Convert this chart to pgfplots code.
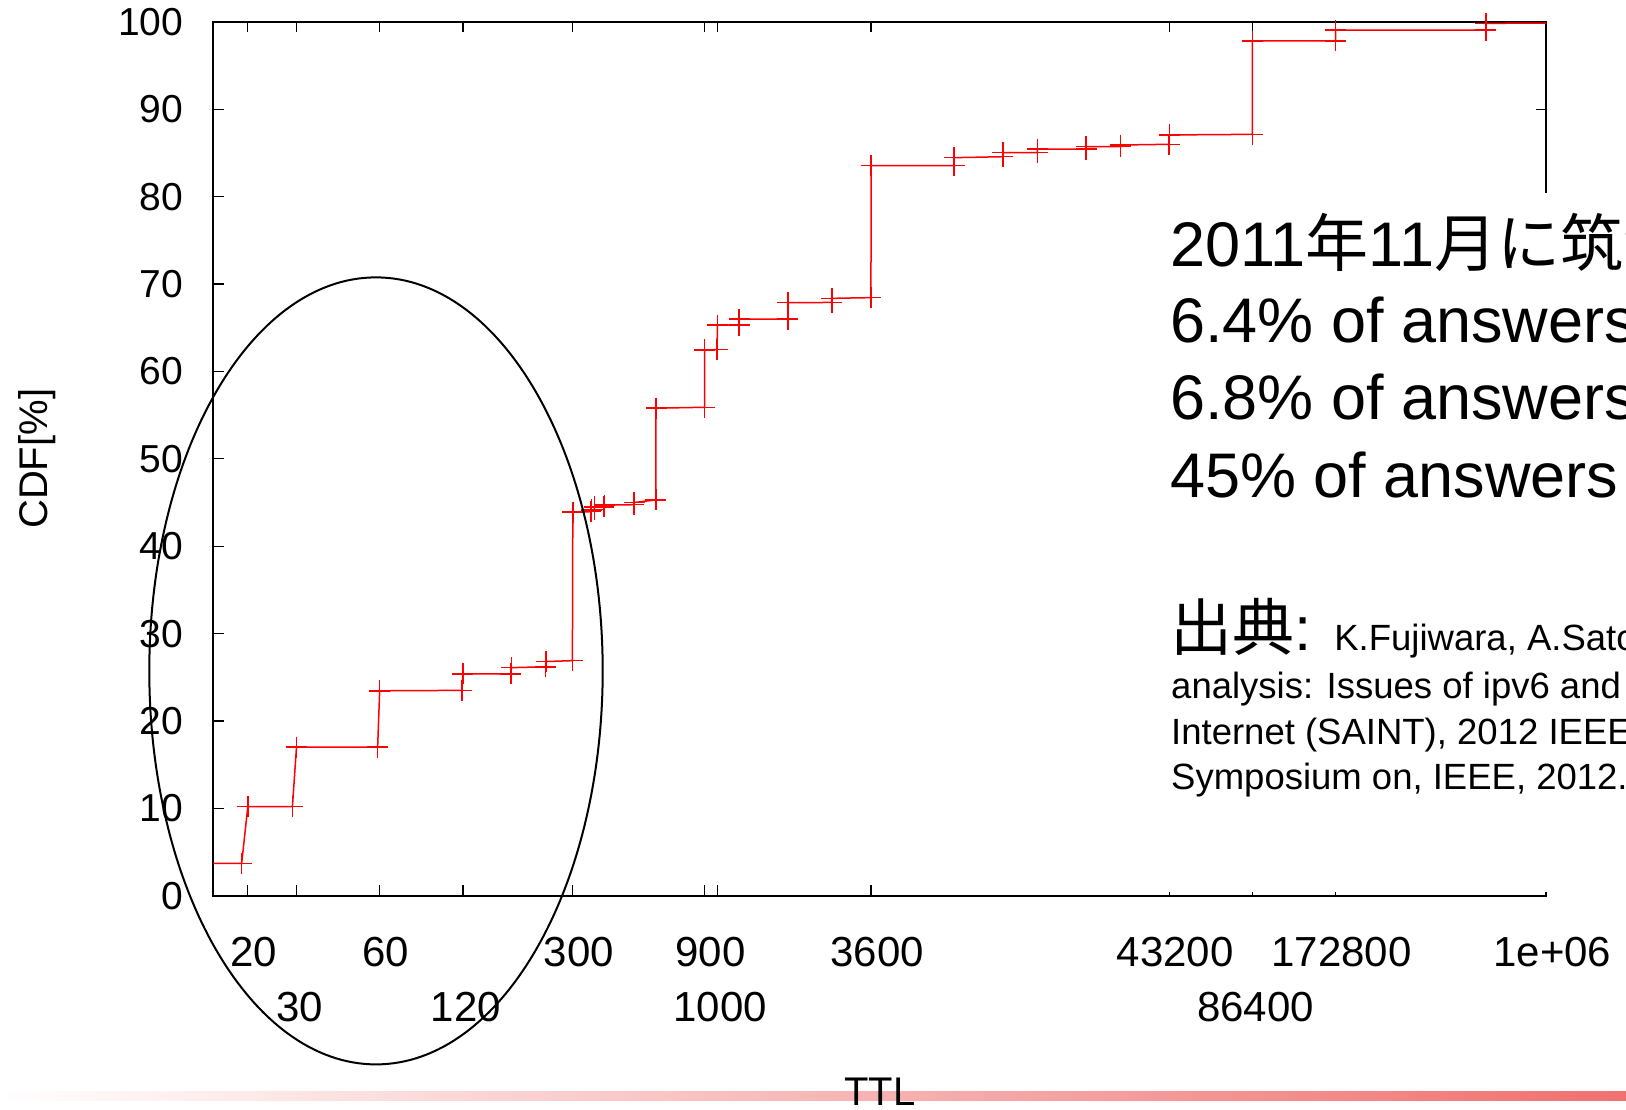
\documentclass[border=0pt]{standalone}
\usepackage{pgfplots}
\pgfplotsset{compat=1.18}
\usepackage{fontspec}
\setmainfont{Liberation Sans}
\newfontfamily\cjk{Noto Sans CJK JP}
\definecolor{barred}{RGB}{240,112,112}
\newcommand{\fs}[1]{\fontsize{#1}{#1}\selectfont}
\begin{document}
\begin{tikzpicture}[x=1pt,y=1pt]
\useasboundingbox (0,0) rectangle (1626,1110);
\clip (0,0) rectangle (1626,1110);
\shade[left color=white, right color=barred] (0,9) rectangle (1626,18);
\begin{axis}[
  at={(213.3pt,214.3pt)}, anchor=south west,
  scale only axis, width=1333pt, height=873.7pt,
  xmode=log, xmin=15, xmax=1000000, ymin=0, ymax=100,
  xtick={20,60,300,900,3600,43200,172800,1000000},
  xticklabels={20,60,300,900,3600,43200,172800,1e+06},
  extra x ticks={30,120,1000,86400},
  extra x tick labels={30,120,1000,86400},
  extra x tick style={xticklabel style={yshift=-55pt, xshift=-3pt}},
  ytick={0,10,...,100},
  tick align=inside,
  major tick length=10.5pt,
  every tick/.style={black, line width=1.3pt},
  axis line style={line width=1.8pt},
  xminorticks=false,
  /pgf/number format/assume math mode=true,
  tick label style={font=\fs{39}},
  xticklabel style={anchor=base, yshift=-71pt, xshift=6pt, inner sep=0pt, font=\fs{42}},
  yticklabel style={anchor=east, inner sep=0pt, xshift=-30pt},
  xlabel={TTL}, ylabel={CDF[\%]},
  label style={font=\fs{40}},
  xlabel style={at={(axis description cs:0.5,-0.2396)}, anchor=base, inner sep=0pt},
  ylabel style={at={(axis description cs:-0.1319,0.5)}, anchor=center, inner sep=0pt},
]
\addplot[red, line width=1.5pt, mark=+, mark size=10.5pt, mark options={line width=1.5pt}] coordinates {
(10,3.7) (19,3.7) (20,10.2) (29,10.2) (30,17.0) (59,17.0) (60,23.45)
(119,23.5) (120,25.4) (179,25.4) (180,26.1) (239,26.2) (240,26.8)
(299,26.9) (300,43.9) (349,43.95) (350,44.15) (359,44.2) (360,44.5)
(389,44.5) (390,44.7) (499,44.75) (500,45.0) (599,45.3) (600,55.8)
(899,55.9) (900,62.46) (999,62.5) (1000,65.3) (1199,65.3) (1200,66.0)
(1799,66.0) (1800,67.87) (2599,67.9) (2600,68.37) (3599,68.45) (3600,83.55)
(7199,83.55) (7200,84.47) (10799,84.58) (10800,85.04) (14399,85.04) (14400,85.46)
(21599,85.46) (21600,85.73) (28799,85.73) (28800,85.92) (43199,86.0) (43200,87.07)
(86399,87.14) (86400,97.82) (172799,97.85) (172800,99.08) (604799,99.08) (604800,99.85)
(3000000,99.9)
};
\end{axis}
\fill[white] (1160,218) rectangle (1626,917);
\draw[line width=2pt] (376,439.1) ellipse [x radius=226.7, y radius=393.5];
\node[anchor=base west, inner sep=0pt, font=\fs{63}] at (1170,843.3) {2011{\cjk 年}11{\cjk 月に筑波大学で観測したDNS応答}};
\node[anchor=base west, inner sep=0pt, font=\fs{63}] at (1170,767.3) {6.4\% of answers have TTL 20};
\node[anchor=base west, inner sep=0pt, font=\fs{63}] at (1170,690) {6.8\% of answers have TTL 30};
\node[anchor=base west, inner sep=0pt, font=\fs{63}] at (1170,612.3) {45\% of answers have TTL 300 or less};
\node[anchor=base west, inner sep=0pt] at (1170,459.3) {{\fs{62}{\cjk 出典}: }{\fs{36.5}K.Fujiwara, A.Sato, K.Yoshida, DNS traffic}};
\node[anchor=base west, inner sep=0pt, font=\fs{36.5}] at (1171,411) {analysis: Issues of ipv6 and CDN, Applications and the};
\node[anchor=base west, inner sep=0pt, font=\fs{36.5}] at (1171,365.7) {Internet (SAINT), 2012 IEEE/IPSJ 12th International};
\node[anchor=base west, inner sep=0pt, font=\fs{36.5}] at (1171,320) {Symposium on, IEEE, 2012.};
\end{tikzpicture}
\end{document}
